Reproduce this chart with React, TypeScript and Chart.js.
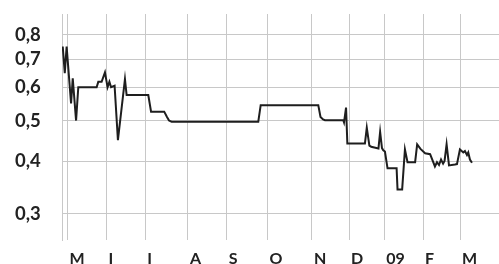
import React, { useEffect, useRef } from "react";
import { Chart, registerables } from "chart.js";

Chart.register(...registerables);

// x positions are trading-day indices from the start of the chart
const xs = [
  0.4, 1.5, 2.5, 4.9, 5.8, 7.6, 8.8, 18.7, 19.6, 21.4, 23.2, 24.1, 24.6, 25.6, 26.5, 28.4,
  30.2, 34.0, 34.9, 46.6, 48.1, 55.2, 56.7, 57.8, 59.2, 106.0, 107.3, 138.4, 139.6, 141.0,
  142.0, 151.9, 152.3, 153.4, 154.1, 163.6, 164.6, 166.0, 167.0, 170.9, 171.8, 172.8, 173.5,
  174.4, 175.8, 180.7, 181.2, 183.7, 185.2, 186.6, 190.7, 191.8, 193.6, 196.1, 198.8, 201.4,
  202.5, 203.6, 204.7, 205.8, 206.6, 207.7, 209.0, 212.2, 213.3, 214.9, 216.7, 217.6, 218.7,
  219.4, 220.3, 221.4,
];
const values = [
  0.75, 0.648, 0.75, 0.549, 0.63, 0.5, 0.6, 0.6, 0.618, 0.618, 0.651, 0.618, 0.6, 0.618, 0.6,
  0.605, 0.449, 0.627, 0.575, 0.575, 0.525, 0.525, 0.51, 0.5, 0.497, 0.497, 0.544, 0.544, 0.51,
  0.503, 0.501, 0.501, 0.495, 0.537, 0.441, 0.441, 0.481, 0.436, 0.433, 0.429, 0.47, 0.43,
  0.425, 0.422, 0.385, 0.385, 0.343, 0.343, 0.427, 0.398, 0.398, 0.439, 0.428, 0.418, 0.416,
  0.389, 0.398, 0.392, 0.404, 0.395, 0.401, 0.439, 0.391, 0.393, 0.394, 0.427, 0.42, 0.423,
  0.414, 0.42, 0.404, 0.397,
];

// month starts (trading-day index) and their labels
const monthStarts = [3, 24, 45, 68, 89, 111, 135, 155, 174, 195, 215];
const monthLabels = ["M", "I", "I", "A", "S", "O", "N", "D", "09", "F", "M"];

const yTicks = [0.3, 0.4, 0.5, 0.6, 0.7, 0.8];

const GRID = "#c8c8c8";
const TEXT = "#222222";
const FONT = "Lato";

export default function App() {
  const ref = useRef<HTMLCanvasElement | null>(null);

  useEffect(() => {
    if (!ref.current) return;
    const chart = new Chart(ref.current, {
      type: "line",
      data: {
        datasets: [
          {
            data: xs.map((x, i) => ({ x, y: values[i] })),
            borderColor: "#1e1e1e",
            borderWidth: 2,
            pointRadius: 0,
            tension: 0,
            fill: false,
          },
        ],
      },
      options: {
        animation: false,
        responsive: false,
        layout: { padding: { top: 14, right: 0, left: 15, bottom: 0 } },
        plugins: { legend: { display: false }, tooltip: { enabled: false } },
        scales: {
          x: {
            type: "linear",
            min: 0,
            max: 236,
            afterBuildTicks: (s: any) => {
              s.ticks = monthStarts.map((v) => ({ value: v }));
            },
            afterFit: (s: any) => {
              s.height = 24;
            },
            grid: { color: GRID, lineWidth: 1, drawTicks: false },
            border: { display: false },
            ticks: {
              autoSkip: false,
              maxRotation: 0,
              align: "start",
              labelOffset: 2,
              padding: 9,
              color: TEXT,
              font: { family: FONT, size: 16, weight: "bold" },
              callback: (v: any) => {
                const i = monthStarts.indexOf(Number(v));
                return i >= 0 ? monthLabels[i] : "";
              },
            },
          },
          y: {
            type: "logarithmic",
            min: 0.26,
            max: 0.896,
            afterBuildTicks: (s: any) => {
              s.ticks = yTicks.map((v) => ({ value: v }));
            },
            afterFit: (s: any) => {
              s.width = 47;
            },
            grid: { color: GRID, lineWidth: 1, drawTicks: false },
            border: { display: true, color: GRID, width: 1 },
            ticks: {
              padding: 0,
              crossAlign: "far",
              color: TEXT,
              font: { family: FONT, size: 18.5, weight: "bold" },
              callback: (v: any) => String(v).replace(".", ","),
            },
          },
        },
      },
    });
    return () => chart.destroy();
  }, []);

  return (
    <div style={{ position: "fixed", left: 0, top: 0, width: 499, height: 264, background: "#fff" }}>
      <canvas ref={ref} width={499} height={264} />
    </div>
  );
}
